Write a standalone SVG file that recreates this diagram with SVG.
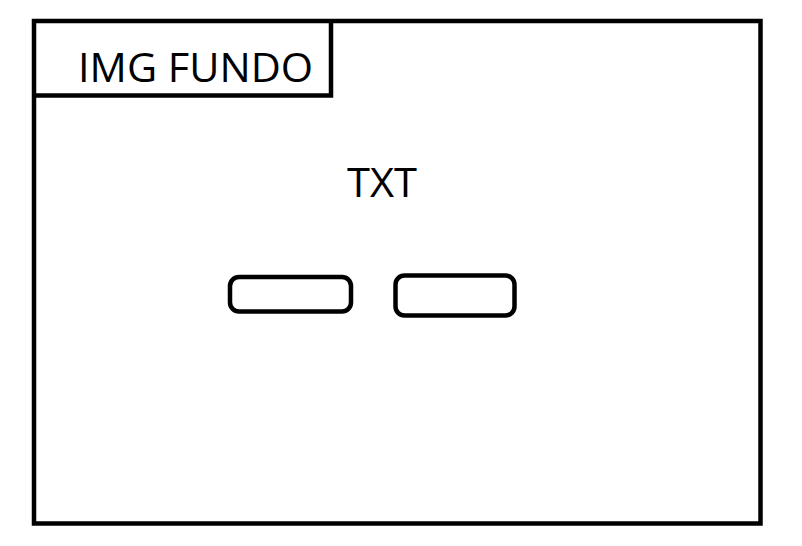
<svg xmlns="http://www.w3.org/2000/svg" width="802" height="546" viewBox="0 0 802 546">
<style>
.ln{fill:none;stroke:#000;stroke-width:4.5}
.t{font-family:"Open Sans","Noto Sans",sans-serif;font-size:41px;fill:#000}
</style>
<rect width="802" height="546" fill="#fff"/>
<g id="frame"><rect class="ln" x="34" y="21" width="726.5" height="502.5"/></g>
<g id="label-box">
<path class="ln" d="M34 95.5 H331 V21"/>
<text class="t" x="78" y="82" textLength="235" lengthAdjust="spacingAndGlyphs">IMG FUNDO</text>
</g>
<g id="txt"><text class="t" x="347" y="197" textLength="70" lengthAdjust="spacingAndGlyphs">TXT</text></g>
<g id="button1"><rect class="ln" x="230" y="277" width="121" height="34.5" rx="9"/></g>
<g id="button2"><rect class="ln" x="395.5" y="275.5" width="119" height="40" rx="9"/></g>
<g id="connectors"/>
</svg>
